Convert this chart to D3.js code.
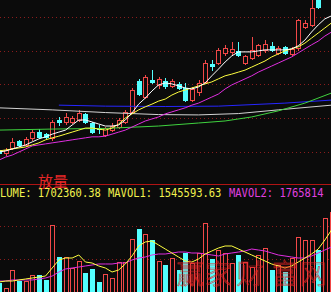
<!DOCTYPE html>
<html>
<head>
<meta charset="utf-8">
<script src="https://cdn.jsdelivr.net/npm/d3@7"></script>
<style>
body { margin: 0; background: #0b0b0b; }
svg { display: block; }
</style>
</head>
<body>
<div id="chart"></div>
<script>
// daily candles, oldest first (price)
var opens = [10.05, 9.96, 10.11, 10.32, 10.20, 10.40, 10.58, 10.52, 10.40, 10.94,
  10.88, 10.88, 10.94, 11.12, 10.85, 10.70, 10.49, 10.64, 10.73, 10.88,
  11.18, 12.10, 11.62, 12.13, 11.98, 12.10, 11.95, 12.01, 11.89, 11.53,
  11.77, 12.07, 12.60, 12.63, 12.93, 12.96, 12.99, 12.63, 12.78, 12.87,
  13.02, 13.13, 12.93, 13.11, 12.90, 13.08, 13.70, 13.76, 14.50, 14.80, 15.39];
var highs = [10.11, 10.11, 10.40, 10.35, 10.43, 10.64, 10.67, 10.55, 10.94, 11.03,
  11.15, 11.06, 11.24, 11.15, 10.88, 10.79, 10.73, 10.85, 11.00, 11.24,
  11.89, 12.16, 12.27, 12.42, 12.21, 12.19, 12.16, 12.07, 12.04, 11.92,
  12.13, 12.72, 12.72, 13.08, 13.16, 13.25, 13.25, 12.87, 13.40, 13.19,
  13.31, 13.25, 13.13, 13.13, 13.11, 13.94, 13.91, 14.59, 14.59, 15.54, 16.10];
var lows = [9.90, 9.90, 10.08, 10.17, 10.17, 10.35, 10.40, 10.40, 10.35, 10.79,
  10.82, 10.85, 10.91, 10.85, 10.55, 10.55, 10.46, 10.61, 10.70, 10.85,
  11.15, 11.68, 11.59, 12.04, 11.89, 11.89, 11.92, 11.86, 11.50, 11.50,
  11.68, 12.04, 12.42, 12.60, 12.87, 12.87, 12.84, 12.60, 12.75, 12.84,
  12.96, 12.99, 12.90, 12.90, 12.87, 13.02, 13.67, 13.73, 14.26, 14.76, 15.30];
var closes = [9.96, 10.05, 10.29, 10.20, 10.38, 10.58, 10.43, 10.43, 10.88, 10.88,
  11.03, 11.00, 11.15, 10.88, 10.58, 10.66, 10.70, 10.76, 10.94, 11.18,
  11.83, 11.71, 12.21, 12.07, 12.16, 11.95, 12.10, 11.89, 11.53, 11.86,
  12.04, 12.63, 12.54, 13.02, 13.08, 13.05, 12.87, 12.84, 13.02, 13.16,
  13.19, 13.02, 13.08, 12.93, 13.05, 13.91, 13.82, 14.26, 14.29, 15.39, 15.98];
var volumes = [191000, 85000, 467000, 233000, 233000, 361000, 361000, 255000, 1421000, 742000,
  742000, 509000, 658000, 403000, 488000, 212000, 382000, 297000, 636000, 636000,
  1124000, 1336000, 1230000, 1103000, 658000, 573000, 721000, 467000, 827000, 615000,
  827000, 1464000, 700000, 891000, 827000, 615000, 785000, 636000, 530000, 785000,
  933000, 467000, 573000, 424000, 721000, 1167000, 1103000, 1103000, 891000, 1570000, 1702360];

// moving averages
var ma5 = [9.99, 10.02, 10.08, 10.14, 10.20, 10.29, 10.38, 10.44, 10.52, 10.58,
  10.64, 10.79, 10.94, 10.94, 10.88, 10.82, 10.76, 10.76, 10.79, 10.94,
  11.15, 11.41, 11.59, 11.80, 11.98, 12.04, 12.01, 11.95, 11.89, 11.86,
  11.92, 12.04, 12.25, 12.45, 12.66, 12.84, 12.96, 12.96, 12.96, 12.99,
  13.02, 13.02, 13.02, 13.02, 13.05, 13.14, 13.31, 13.55, 13.76, 13.94, 14.03];
var ma10 = [10.02, 10.05, 10.08, 10.11, 10.14, 10.20, 10.26, 10.35, 10.41, 10.46,
  10.52, 10.58, 10.64, 10.70, 10.70, 10.67, 10.64, 10.70, 10.82, 11.00,
  11.12, 11.24, 11.33, 11.41, 11.50, 11.56, 11.68, 11.77, 11.83, 11.89,
  11.95, 12.01, 12.07, 12.16, 12.25, 12.30, 12.36, 12.42, 12.51, 12.60,
  12.69, 12.81, 12.90, 12.99, 13.05, 13.11, 13.22, 13.37, 13.52, 13.67, 13.82];
var ma20 = [9.75, 9.84, 9.90, 9.99, 10.08, 10.17, 10.20, 10.23, 10.26, 10.29,
  10.32, 10.35, 10.38, 10.41, 10.44, 10.44, 10.46, 10.52, 10.58, 10.64,
  10.73, 10.82, 10.91, 10.97, 11.03, 11.12, 11.18, 11.24, 11.30, 11.38,
  11.44, 11.53, 11.62, 11.71, 11.86, 11.98, 12.07, 12.16, 12.25, 12.36,
  12.45, 12.54, 12.63, 12.72, 12.81, 12.93, 13.05, 13.17, 13.28, 13.43, 13.55];
// [day index, value]
var ma60 = [[0, 10.64], [8, 10.67], [16, 10.69], [24, 10.76], [30, 10.85], [34, 10.91],
  [38, 11.03], [42, 11.21], [46, 11.44], [50, 11.74]];
var ma120 = [[0, 11.30], [8, 11.24], [16, 11.16], [24, 11.10], [30, 11.09], [36, 11.13],
  [42, 11.24], [50, 11.38]];
var ma250 = [[9, 11.38], [16, 11.35], [25, 11.34], [33, 11.35], [43, 11.44], [50, 11.53]];

var mavol1 = [212000, 233000, 233000, 255000, 276000, 297000, 318000, 339000, 509000, 679000,
  721000, 721000, 785000, 636000, 615000, 552000, 509000, 424000, 467000, 594000,
  764000, 976000, 1061000, 1082000, 997000, 912000, 827000, 742000, 658000, 636000,
  700000, 806000, 870000, 933000, 976000, 976000, 912000, 848000, 785000, 721000,
  658000, 594000, 552000, 509000, 552000, 636000, 721000, 806000, 912000, 1103000, 1315000];
var mavol2 = [233000, 233000, 255000, 255000, 255000, 255000, 276000, 297000, 339000, 424000,
  488000, 509000, 530000, 552000, 573000, 594000, 594000, 594000, 615000, 615000,
  679000, 721000, 742000, 785000, 806000, 806000, 827000, 848000, 848000, 827000,
  827000, 806000, 785000, 764000, 806000, 827000, 848000, 870000, 912000, 891000,
  870000, 827000, 785000, 764000, 742000, 721000, 721000, 764000, 827000, 891000, 955000];

var priceTicks = [10, 11, 12, 13, 14];
var volTicks = [700000, 1400000];
var volLabels = ["VOLUME: 1702360.38", "MAVOL1: 1545593.63", "MAVOL2: 1765814"];

var width = 331, height = 292;
var upColor = "#f24848", downColor = "#54ffff";

var svg = d3.select("#chart").append("svg")
    .attr("width", width)
    .attr("height", height);

svg.append("rect").attr("width", width).attr("height", height).attr("fill", "#0b0b0b");

var x = d3.scaleLinear().domain([0, 50]).range([-1, 331.5]);
var y = d3.scaleLinear().domain([9, 14.5]).range([185.35, 0]);
var yv = d3.scaleLinear().domain([0, 1400000]).range([292, 226]);

var defs = svg.append("defs");
defs.append("clipPath").attr("id", "kclip")
    .append("rect").attr("x", 0).attr("y", 0).attr("width", width).attr("height", 184);
defs.append("clipPath").attr("id", "vclip")
    .append("rect").attr("x", 0).attr("y", 199).attr("width", width).attr("height", 93);

// dotted grid
svg.selectAll("line.pgrid")
    .data(priceTicks.map(function (t) { return y(t); }).concat(volTicks.map(function (t) { return yv(t); })))
    .enter()
    .append("line")
    .attr("class", "pgrid")
    .attr("x1", 0).attr("x2", width)
    .attr("y1", function (d) { return Math.round(d) + 0.5; })
    .attr("y2", function (d) { return Math.round(d) + 0.5; })
    .attr("stroke", "#8a1c1c")
    .attr("stroke-dasharray", "1,3");

var k = svg.append("g").attr("clip-path", "url(#kclip)");
var days = d3.range(opens.length);

function px(i) { return Math.round(x(i)); }

// wicks
k.selectAll("line.wick")
    .data(days)
    .enter()
    .append("line")
    .attr("x1", function (i) { return px(i) + 0.5; })
    .attr("x2", function (i) { return px(i) + 0.5; })
    .attr("y1", function (i) { return Math.round(y(highs[i])); })
    .attr("y2", function (i) { return Math.round(y(lows[i])) + 1; })
    .attr("stroke", function (i) { return closes[i] >= opens[i] ? upColor : downColor; });

// bodies
k.selectAll("rect.body")
    .data(days)
    .enter()
    .append("rect")
    .each(function (i) {
        var up = closes[i] >= opens[i];
        var top = Math.round(y(Math.max(opens[i], closes[i])));
        var bot = Math.round(y(Math.min(opens[i], closes[i])));
        if (bot - top < 1) bot = top + 1;
        var r = d3.select(this);
        if (up) {
            r.attr("x", px(i) - 2 + 0.5).attr("y", top + 0.5)
                .attr("width", 4).attr("height", bot - top)
                .attr("fill", "#0b0b0b").attr("stroke", upColor);
        } else {
            r.attr("x", px(i) - 2).attr("y", top)
                .attr("width", 5).attr("height", bot - top + 1)
                .attr("fill", downColor);
        }
    });

// moving averages
var lineIdx = d3.line().x(function (d, i) { return x(i); }).y(function (d) { return y(d); });
var linePair = d3.line().x(function (d) { return x(d[0]); }).y(function (d) { return y(d[1]); });

var maLines = [
    { path: linePair(ma120), color: "#d2d2d2" },
    { path: linePair(ma250), color: "#2626ff" },
    { path: linePair(ma60), color: "#3fd23f" },
    { path: lineIdx(ma20), color: "#e02ee0" },
    { path: lineIdx(ma10), color: "#ffff40" },
    { path: lineIdx(ma5), color: "#ffffff" }
];
k.selectAll("path.ma")
    .data(maLines)
    .enter()
    .append("path")
    .attr("d", function (d) { return d.path; })
    .attr("fill", "none")
    .attr("stroke", function (d) { return d.color; })
    .attr("stroke-width", 1);

// panel separator
svg.append("line")
    .attr("x1", 0).attr("x2", width)
    .attr("y1", 184.5).attr("y2", 184.5)
    .attr("stroke", "#b01414");

svg.append("text")
    .attr("x", 38).attr("y", 187)
    .attr("font-family", "'Noto Sans CJK SC', sans-serif")
    .attr("font-size", "15px")
    .attr("fill", "#e82828")
    .text("放量");

// volume panel
var v = svg.append("g").attr("clip-path", "url(#vclip)");
v.selectAll("rect.vol")
    .data(days)
    .enter()
    .append("rect")
    .each(function (i) {
        var up = closes[i] >= opens[i];
        var top = Math.round(yv(volumes[i]));
        var r = d3.select(this);
        if (up) {
            r.attr("x", px(i) - 2 + 0.5).attr("y", top + 0.5)
                .attr("width", 4).attr("height", 292 - top)
                .attr("fill", "#0b0b0b").attr("stroke", upColor);
        } else {
            r.attr("x", px(i) - 2).attr("y", top)
                .attr("width", 5).attr("height", 292 - top)
                .attr("fill", downColor);
        }
    });

var lineVol = d3.line().x(function (d, i) { return x(i); }).y(function (d) { return yv(d); });
v.append("path").attr("d", lineVol(mavol2)).attr("fill", "none").attr("stroke", "#e02ee0");
v.append("path").attr("d", lineVol(mavol1)).attr("fill", "none").attr("stroke", "#ffff40");

// watermark
var mark = ["赢", "家", "财", "富", "网"];
var markX = [190, 218, 250, 285, 313];
svg.selectAll("text.mark")
    .data(mark)
    .enter()
    .append("text")
    .attr("x", function (d, i) { return markX[i]; })
    .attr("y", 284)
    .attr("text-anchor", "middle")
    .attr("font-family", "'Noto Sans CJK SC', sans-serif")
    .attr("font-size", "27px")
    .attr("font-weight", 300)
    .attr("fill", "none")
    .attr("stroke", "#e02424")
    .attr("stroke-width", 0.6)
    .attr("opacity", 0.9)
    .text(function (d) { return d; });

// volume legend
var labelX = [-12.6, 108, 229];
var labelColor = ["#f2f24e", "#f2f24e", "#e040e0"];
svg.selectAll("text.vlabel")
    .data(volLabels)
    .enter()
    .append("text")
    .attr("x", function (d, i) { return labelX[i]; })
    .attr("y", 197)
    .attr("font-family", "'DejaVu Sans Mono', monospace")
    .attr("font-size", "12px")
    .attr("textLength", function (d) { return d.length * 6.3; })
    .attr("lengthAdjust", "spacingAndGlyphs")
    .attr("fill", function (d, i) { return labelColor[i]; })
    .text(function (d) { return d; });
</script>
</body>
</html>
